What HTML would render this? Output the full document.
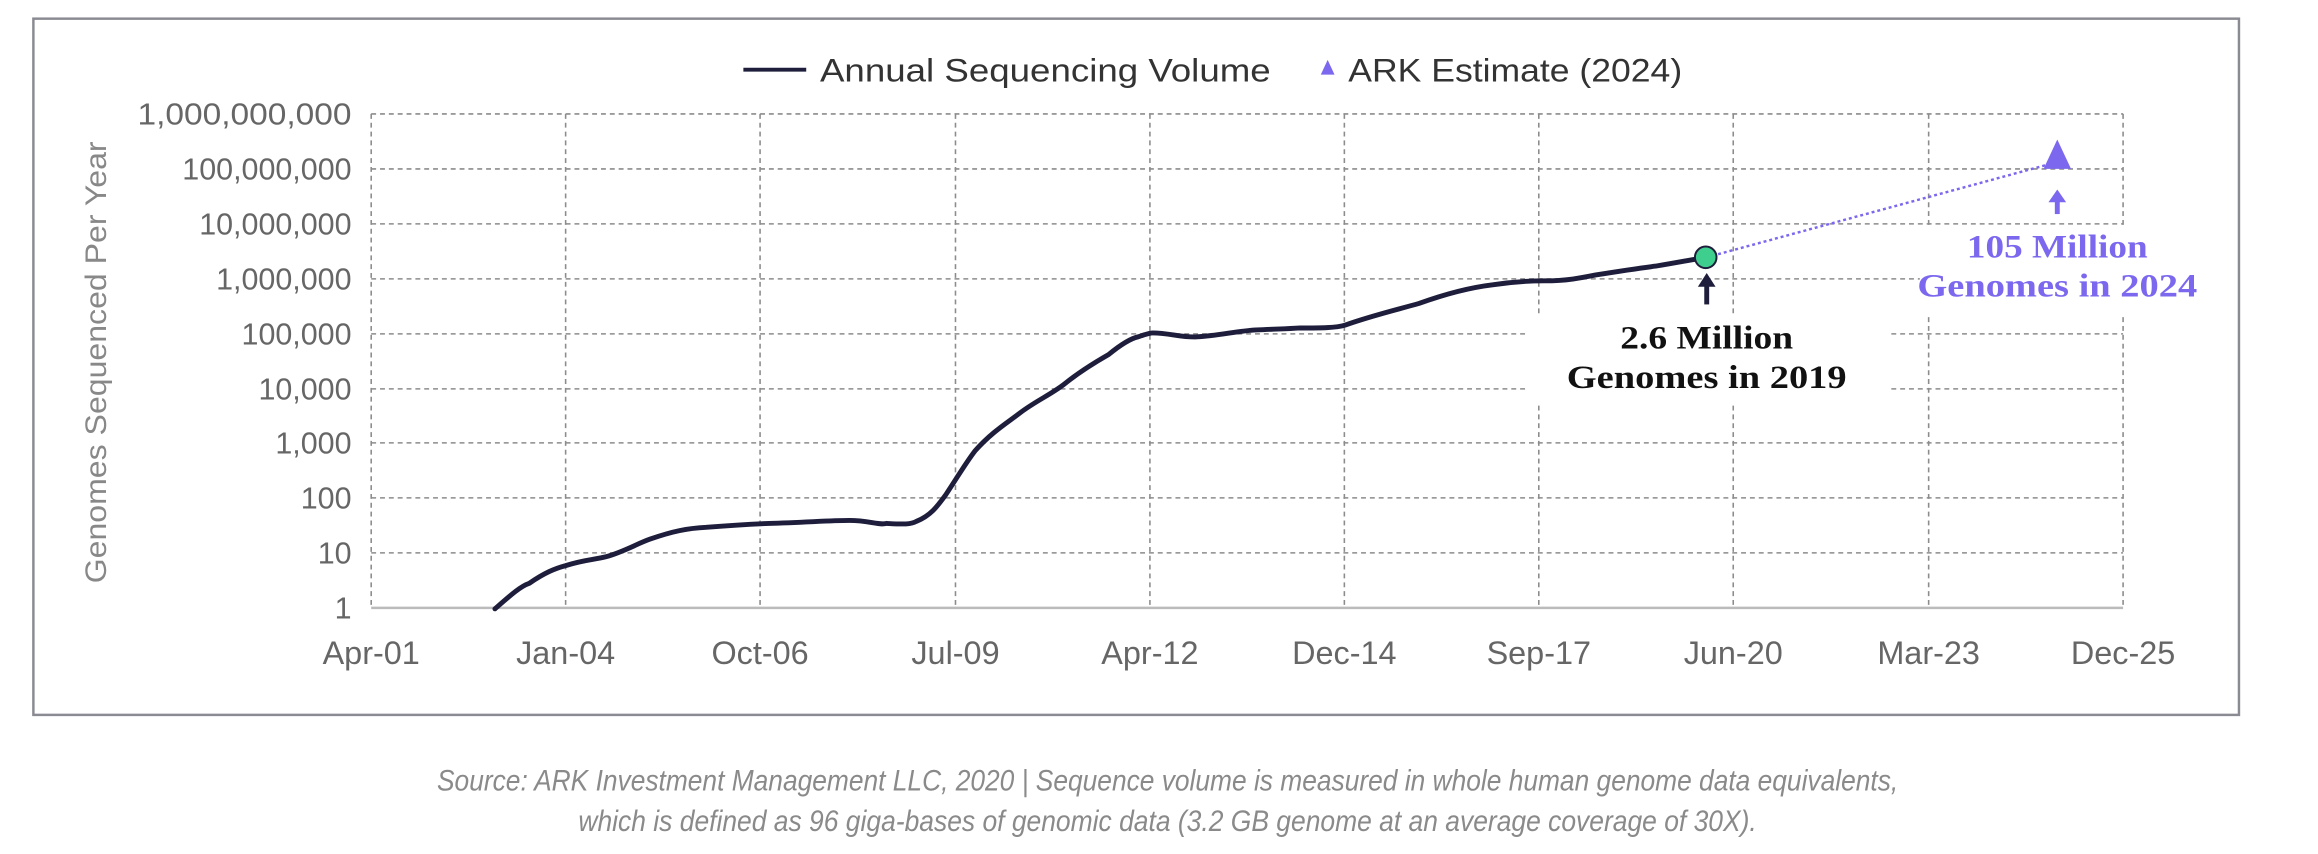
<!DOCTYPE html>
<html><head><meta charset="utf-8"><style>
html,body{margin:0;padding:0;background:#fff;}
svg{display:block;}
text{font-family:"Liberation Sans",sans-serif;}
</style></head><body>
<svg width="2318" height="854" viewBox="0 0 2318 854" xmlns="http://www.w3.org/2000/svg">
<rect x="0" y="0" width="2318" height="854" fill="#fff"/>
<g transform="scale(0.982)">
<rect x="34" y="19" width="2246" height="709" fill="#fff" stroke="#8a8a92" stroke-width="2.5"/>
<g stroke="#8c8c8c" stroke-width="1.6" stroke-dasharray="5,4" fill="none">
<line x1="378" y1="116" x2="2162" y2="116"/>
<line x1="378" y1="172" x2="2162" y2="172"/>
<line x1="378" y1="228" x2="2162" y2="228"/>
<line x1="378" y1="284" x2="2162" y2="284"/>
<line x1="378" y1="340" x2="2162" y2="340"/>
<line x1="378" y1="396" x2="2162" y2="396"/>
<line x1="378" y1="451" x2="2162" y2="451"/>
<line x1="378" y1="507" x2="2162" y2="507"/>
<line x1="378" y1="563" x2="2162" y2="563"/>
<line x1="576" y1="116" x2="576" y2="619"/>
<line x1="774" y1="116" x2="774" y2="619"/>
<line x1="973" y1="116" x2="973" y2="619"/>
<line x1="1171" y1="116" x2="1171" y2="619"/>
<line x1="1369" y1="116" x2="1369" y2="619"/>
<line x1="1567" y1="116" x2="1567" y2="619"/>
<line x1="1765" y1="116" x2="1765" y2="619"/>
<line x1="1964" y1="116" x2="1964" y2="619"/>
<line x1="2162" y1="116" x2="2162" y2="619"/>
<line x1="378" y1="116" x2="378" y2="619"/>
</g>
<line x1="378" y1="619" x2="2162" y2="619" stroke="#bbb" stroke-width="2.5"/>
<g font-size="31" fill="#666" text-anchor="end">
<text x="358" y="127" textLength="218" lengthAdjust="spacingAndGlyphs">1,000,000,000</text>
<text x="358" y="183">100,000,000</text>
<text x="358" y="239">10,000,000</text>
<text x="358" y="295">1,000,000</text>
<text x="358" y="351">100,000</text>
<text x="358" y="407">10,000</text>
<text x="358" y="462">1,000</text>
<text x="358" y="518">100</text>
<text x="358" y="574">10</text>
<text x="358" y="630">1</text>
</g>
<text transform="translate(108,369) rotate(-90)" font-size="30" fill="#888" text-anchor="middle" textLength="450" lengthAdjust="spacingAndGlyphs">Genomes Sequenced Per Year</text>
<g font-size="33" fill="#666" text-anchor="middle">
<text x="378" y="676">Apr-01</text>
<text x="576" y="676">Jan-04</text>
<text x="774" y="676">Oct-06</text>
<text x="973" y="676">Jul-09</text>
<text x="1171" y="676">Apr-12</text>
<text x="1369" y="676">Dec-14</text>
<text x="1567" y="676">Sep-17</text>
<text x="1765" y="676">Jun-20</text>
<text x="1964" y="676">Mar-23</text>
<text x="2162" y="676">Dec-25</text>
</g>
<line x1="757" y1="71" x2="821" y2="71" stroke="#1e1e3c" stroke-width="4"/>
<text x="835" y="83" font-size="33" fill="#333" textLength="459" lengthAdjust="spacingAndGlyphs">Annual Sequencing Volume</text>
<polygon points="1352,61 1345,76 1359,76" fill="#7b68ee"/>
<text x="1373" y="83" font-size="33" fill="#333" textLength="340" lengthAdjust="spacingAndGlyphs">ARK Estimate (2024)</text>
<rect x="1555" y="320" width="368" height="90" fill="#fff"/>
<rect x="1955" y="232" width="290" height="90" fill="#fff"/>
<path d="M504,620 C520,606 530,597 539,594 C555,583 565,579 576,576 C595,570 605,570 617,567 C635,562 648,554 662,549 C685,541 700,538 719,537 C745,535 760,534 783,533 C820,532 845,530 865,530 C885,530 895,535 903,533 C920,534 928,534 933,531 C948,525 955,515 963,504 C975,486 983,472 993,459 C1010,440 1025,431 1038,421 C1055,408 1070,402 1084,391 C1100,378 1115,369 1129,361 C1140,352 1150,345 1159,343 C1165,341 1170,339 1174,339 C1190,339 1205,344 1219,343 C1240,342 1260,337 1279,336 C1300,335 1310,335 1324,334 C1345,334 1360,334 1370,331 C1395,322 1420,316 1445,309 C1470,300 1495,293 1520,290 C1540,287 1555,286 1573,286 C1595,286 1610,283 1625,280 C1650,276 1670,273 1686,271 C1710,267 1725,264 1738,262" fill="none" stroke="#1e1e3c" stroke-width="5" stroke-linecap="round"/>
<line x1="1738" y1="262" x2="2095" y2="165" stroke="#7b68ee" stroke-width="2.5" stroke-dasharray="3,3"/>
<circle cx="1737" cy="262" r="11" fill="#3ecf8e" stroke="#1e1e3c" stroke-width="2"/>
<polygon points="2095,142 2081,172 2109,172" fill="#7b68ee"/>
<line x1="1738" y1="285" x2="1738" y2="310" stroke="#1e1e3c" stroke-width="5"/>
<polygon points="1738,278 1729,292 1747,292" fill="#1e1e3c"/>
<line x1="2095" y1="200" x2="2095" y2="218" stroke="#7b68ee" stroke-width="5"/>
<polygon points="2095,193 2086,206 2104,206" fill="#7b68ee"/>
<g font-weight="bold" text-anchor="middle">
<text x="1738" y="355" font-size="33" fill="#111" textLength="176" lengthAdjust="spacingAndGlyphs" style="font-family:'Liberation Serif',serif">2.6 Million</text>
<text x="1738" y="395" font-size="33" fill="#111" textLength="285" lengthAdjust="spacingAndGlyphs" style="font-family:'Liberation Serif',serif">Genomes in 2019</text>
<text x="2095" y="262" font-size="33" fill="#7b68ee" textLength="184" lengthAdjust="spacingAndGlyphs" style="font-family:'Liberation Serif',serif">105 Million</text>
<text x="2095" y="302" font-size="33" fill="#7b68ee" textLength="285" lengthAdjust="spacingAndGlyphs" style="font-family:'Liberation Serif',serif">Genomes in 2024</text>
</g>
<g font-size="30" fill="#8a8a8a" font-style="italic" text-anchor="middle">
<text x="1189" y="805" textLength="1488" lengthAdjust="spacingAndGlyphs">Source: ARK Investment Management LLC, 2020  |  Sequence volume is measured in whole human genome data equivalents,</text>
<text x="1189" y="846" textLength="1200" lengthAdjust="spacingAndGlyphs">which is defined as 96 giga-bases of genomic data (3.2 GB genome at an average coverage of 30X).</text>
</g>
</g>
</svg>
</body></html>
